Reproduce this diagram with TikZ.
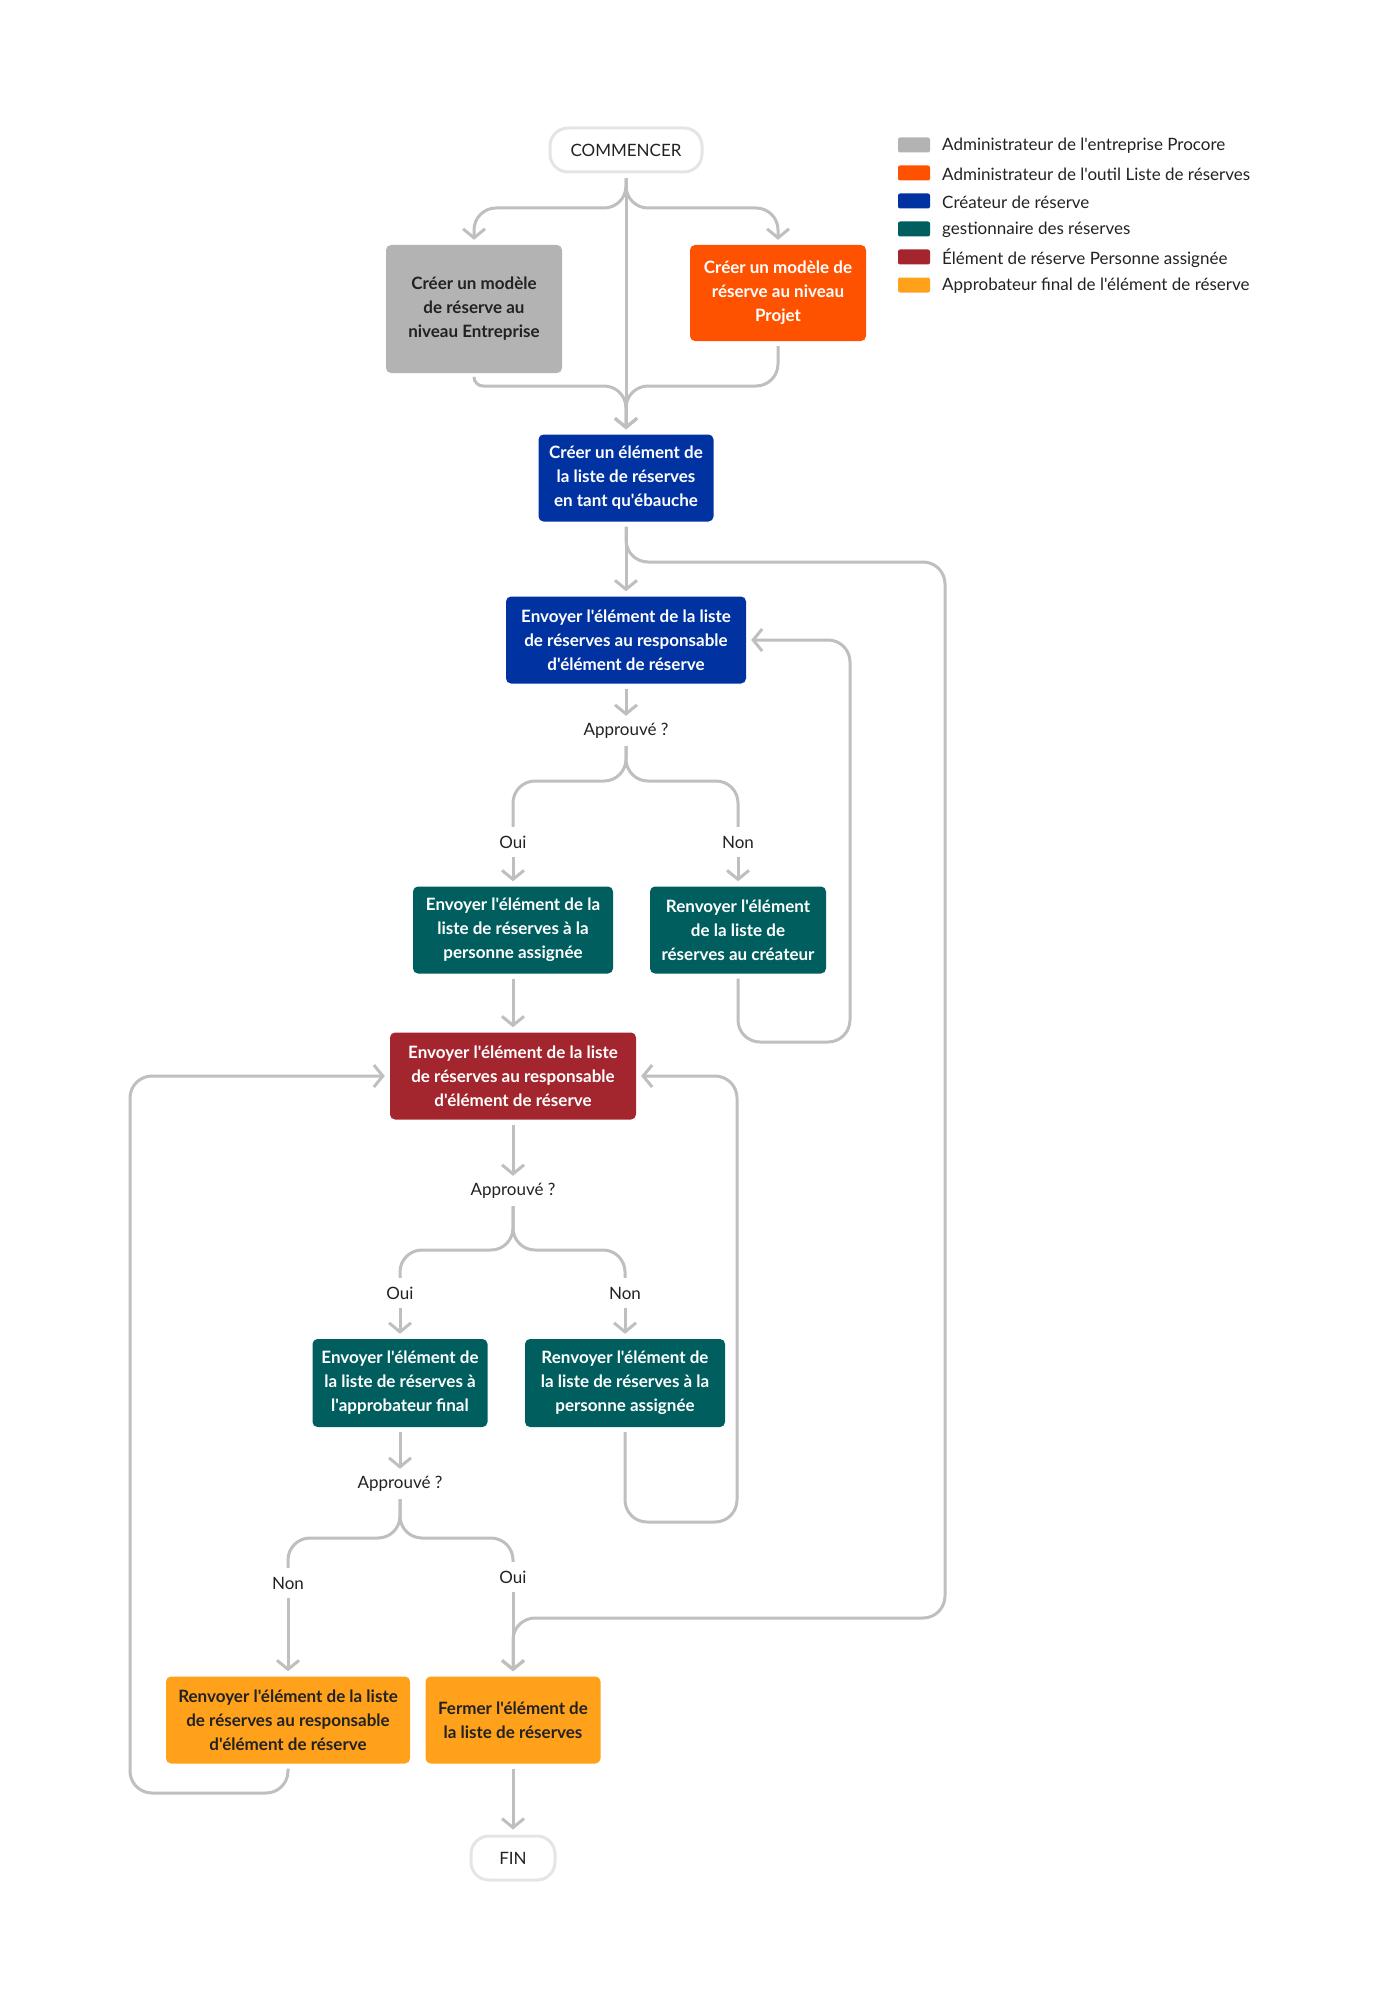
\documentclass[tikz,border=0pt]{standalone}
\usepackage{fontspec}
\usetikzlibrary{arrows.meta}
\newfontfamily\diagfont{Lato}
\definecolor{linegray}{RGB}{191,191,191}
\definecolor{capgray}{RGB}{229,229,229}
\definecolor{entgray}{RGB}{179,179,179}
\definecolor{projorange}{RGB}{255,82,0}
\definecolor{draftblue}{RGB}{0,51,161}
\definecolor{mgrteal}{RGB}{0,94,94}
\definecolor{assignred}{RGB}{163,38,46}
\definecolor{finalamber}{RGB}{255,161,26}
\definecolor{inkdark}{RGB}{34,34,34}

\begin{document}
\begin{tikzpicture}[x=1pt, y=-1pt,
        box/.style={rectangle, rounded corners=5pt, align=center, inner sep=4pt, text=white,
            font=\diagfont\bfseries\fontsize{17}{24}\selectfont},
        terminal/.style={rectangle, rounded corners=18pt, draw=capgray, line width=3pt, fill=white,
            minimum height=44pt, text=inkdark, font=\diagfont\fontsize{17}{20}\selectfont},
        lbl/.style={inner sep=0pt, minimum height=20pt, text=inkdark,
            font=\diagfont\fontsize{17}{20}\selectfont},
        flowline/.style={draw=linegray, line width=3pt, rounded corners=22pt,
            shorten <=5pt, shorten >=5pt},
        flow/.style={flowline, -{Straight Barb[length=9pt, width=22pt, line width=3pt]}}]
        %bounding box in pixels of the reference, y down
        \useasboundingbox (0,0) rectangle (1378,2009);

        \node (start) at (626,150) [terminal, minimum width=152pt]{COMMENCER};
        \node (ent) at (474,309) [box, fill=entgray, text=inkdark, minimum width=176pt, minimum height=128pt]{Créer un modèle\\de réserve au\\niveau Entreprise};
        \node (proj) at (778,293) [box, fill=projorange, minimum width=176pt, minimum height=96pt]{Créer un modèle de\\réserve au niveau\\Projet};
        \node (draft) at (626,478) [box, fill=draftblue, minimum width=175pt, minimum height=87pt]{Créer un élément de\\la liste de réserves\\en tant qu'ébauche};
        \node (send1) at (626,640) [box, fill=draftblue, minimum width=240pt, minimum height=87pt]{Envoyer l'élément de la liste\\de réserves au responsable\\d'élément de réserve};
        \node (q1) at (626,731) [lbl]{Approuvé ?};
        \node (oui1) at (513,842) [lbl]{Oui};
        \node (non1) at (738,842) [lbl]{Non};
        \node (assign) at (513,930) [box, fill=mgrteal, minimum width=200pt, minimum height=87pt]{Envoyer l'élément de la\\liste de réserves à la\\personne assignée};
        \node (back1) at (738,930) [box, fill=mgrteal, minimum width=176pt, minimum height=87pt]{Renvoyer l'élément\\de la liste de\\réserves au créateur};
        \node (send2) at (513,1076) [box, fill=assignred, minimum width=246pt, minimum height=87pt]{Envoyer l'élément de la liste\\de réserves au responsable\\d'élément de réserve};
        \node (q2) at (513,1191) [lbl]{Approuvé ?};
        \node (oui2) at (400,1293) [lbl]{Oui};
        \node (non2) at (625,1293) [lbl]{Non};
        \node (final) at (400,1383) [box, fill=mgrteal, minimum width=175pt, minimum height=88pt]{Envoyer l'élément de\\la liste de réserves à\\l'approbateur final};
        \node (back2) at (625,1383) [box, fill=mgrteal, minimum width=200pt, minimum height=88pt]{Renvoyer l'élément de\\la liste de réserves à la\\personne assignée};
        \node (q3) at (400,1484) [lbl]{Approuvé ?};
        \node (non3) at (288,1583) [lbl]{Non};
        \node (oui3) at (513,1577) [lbl]{Oui};
        \node (back3) at (288,1720) [box, fill=finalamber, text=inkdark, minimum width=244pt, minimum height=87pt]{Renvoyer l'élément de la liste\\de réserves au responsable\\d'élément de réserve};
        \node (close) at (513,1720) [box, fill=finalamber, text=inkdark, minimum width=175pt, minimum height=87pt]{Fermer l'élément de\\la liste de réserves};
        \node (fin) at (513,1858) [terminal, minimum width=84pt]{FIN};

        \draw[flow] (start) -- (626,208) -| (ent);
        \draw[flow] (start) -- (626,208) -| (proj);
        \draw[flow] (start) -- (draft);
        \draw[flow] (ent) [rounded corners=9pt] -- (474,386) [rounded corners=22pt] -- (626,386) -- (draft);
        \draw[flow] (proj) |- (626,386) -- (draft);

        \draw[flow] (draft) -- (send1);
        \draw[flow] (draft) -- (626,562) -- (945,562) |- (513,1618) -- (close);
        \draw[flow] (send1) -- (q1);
        \draw[flowline] (q1) -- (626,781) -| (oui1);
        \draw[flowline] (q1) -- (626,781) -| (non1);
        \draw[flow] (oui1) -- (assign);
        \draw[flow] (non1) -- (back1);
        \draw[flow] (back1) |- (850,1042) |- (send1);

        \draw[flow] (assign) -- (send2);
        \draw[flow] (send2) -- (q2);
        \draw[flowline] (q2) -- (513,1250) -| (oui2);
        \draw[flowline] (q2) -- (513,1250) -| (non2);
        \draw[flow] (oui2) -- (final);
        \draw[flow] (non2) -- (back2);
        \draw[flow] (back2) |- (737,1522) |- (send2);

        \draw[flow] (final) -- (q3);
        \draw[flowline] (q3) -- (400,1538) -| (non3);
        \draw[flowline] (q3) -- (400,1538) -| (oui3);
        \draw[flow] (non3) -- (back3);
        \draw[flow] (oui3) -- (close);
        \draw[flow] (back3) |- (130,1793) |- (send2);
        \draw[flow] (close) -- (fin);

        %legend
        \fill[entgray, rounded corners=2pt] (898,137.5) rectangle (930,152.5);
        \fill[projorange, rounded corners=2pt] (898,165.5) rectangle (930,180.5);
        \fill[draftblue, rounded corners=2pt] (898,193.5) rectangle (930,208.5);
        \fill[mgrteal, rounded corners=2pt] (898,221.5) rectangle (930,236.5);
        \fill[assignred, rounded corners=2pt] (898,249.5) rectangle (930,264.5);
        \fill[finalamber, rounded corners=2pt] (898,277.5) rectangle (930,292.5);
        \node (leg1) at (942,146) [lbl, anchor=west]{Administrateur de l'entreprise Procore};
        \node (leg2) at (942,174) [lbl, anchor=west]{Administrateur de l'outil Liste de réserves};
        \node (leg3) at (942,202) [lbl, anchor=west]{Créateur de réserve};
        \node (leg4) at (942,230) [lbl, anchor=west]{gestionnaire des réserves};
        \node (leg5) at (942,258) [lbl, anchor=west]{Élément de réserve Personne assignée};
        \node (leg6) at (942,286) [lbl, anchor=west]{Approbateur final de l'élément de réserve};
\end{tikzpicture}
\end{document}
